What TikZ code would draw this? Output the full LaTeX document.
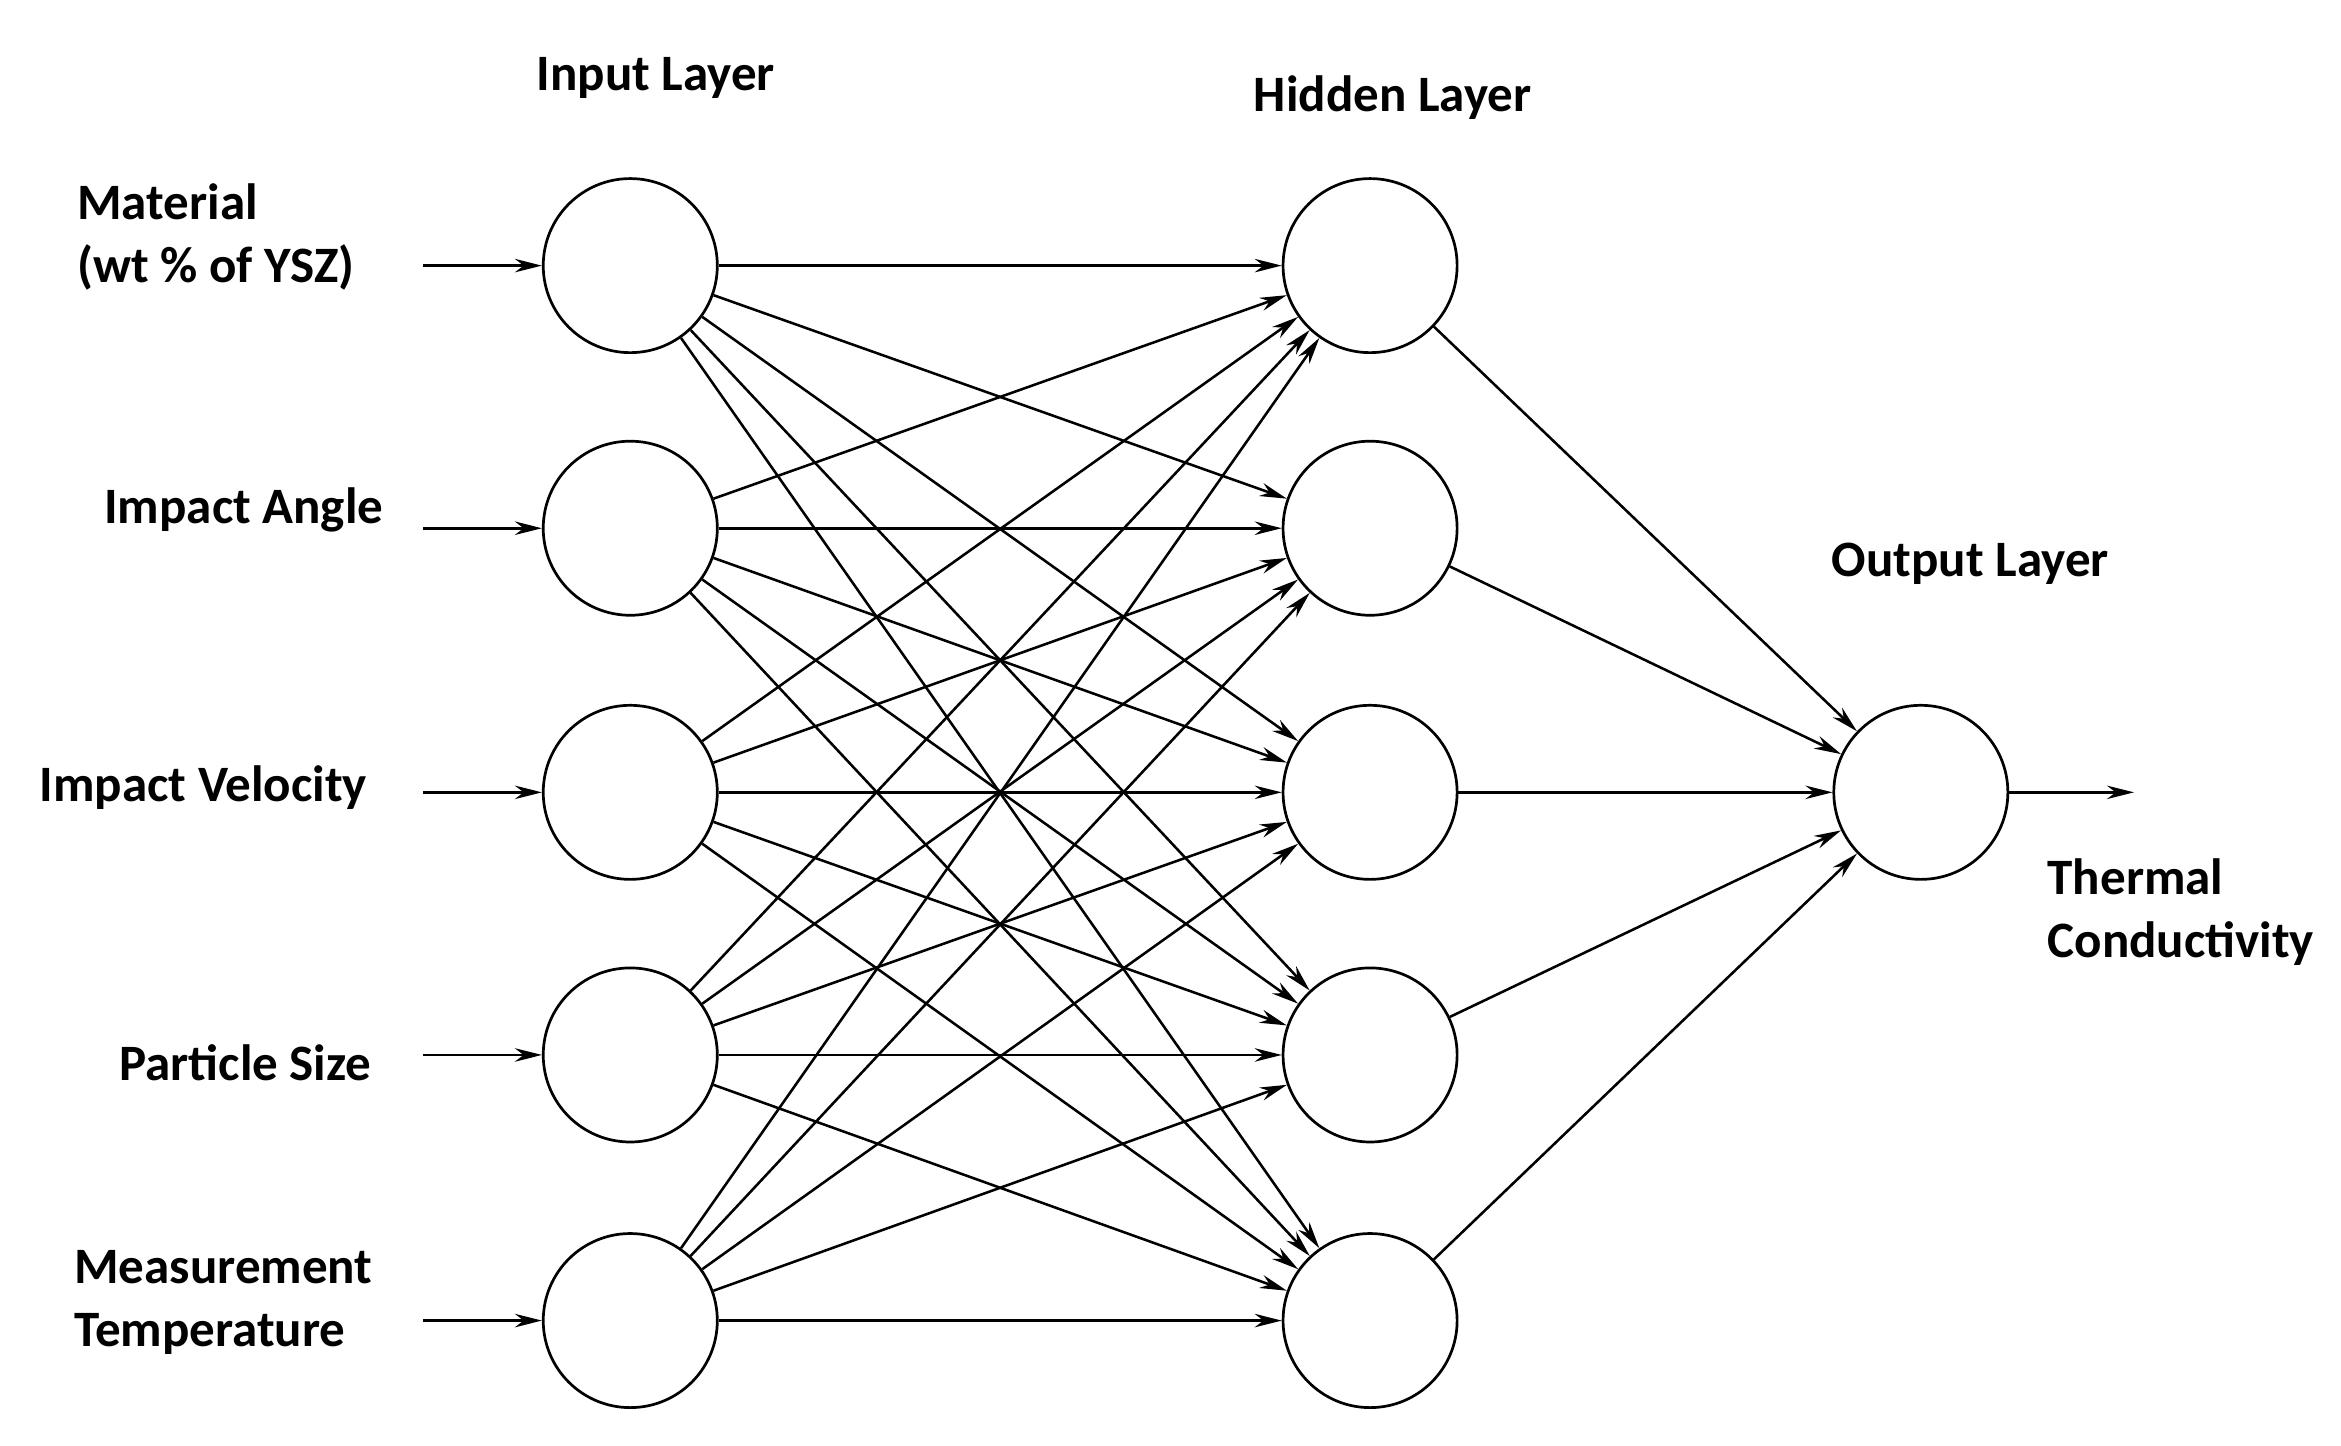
\documentclass[tikz,border=0pt]{standalone}
\usepackage{fontspec}
\setmainfont{Carlito}
\usetikzlibrary{arrows.meta}
\begin{document}
\begin{tikzpicture}[x=1pt,y=-1pt,
  neuron/.style={circle,draw,line width=1.8pt,minimum size=116pt,inner sep=0pt},
  lab/.style={font=\fontsize{34}{42}\selectfont\bfseries,align=left},
  con/.style={line width=1.7pt,-{Stealth[length=18pt,width=9pt]}}]
\useasboundingbox (0,0) rectangle (1560,963);
\foreach \i/\y in {1/177,2/352,3/528,4/703,5/880}{
  \node[neuron] (i\i) at (420,\y) {};
  \node[neuron] (h\i) at (913,\y) {};
  \coordinate (a\i) at (282,\y);
}
\node[neuron] (o) at (1280,528) {};
\node[lab] at (437,52) {Input Layer};
\node[lab] at (928,65) {Hidden Layer};
\node[lab] at (1313,376) {Output Layer};
\node[lab,anchor=west] at (48,158) {Material\\(wt \% of YSZ)};
\node[lab,anchor=west] at (66,340) {Impact Angle};
\node[lab,anchor=west] at (23,525) {Impact Velocity};
\node[lab,anchor=west] at (76,708) {Particle Size};
\node[lab,anchor=west] at (46,868) {Measurement\\Temperature};
\node[lab,anchor=west] at (1361,608) {Thermal\\Conductivity};
\coordinate (out) at (1422,528);
\foreach \i in {1,...,5}{
  \draw[con] (a\i) -- (i\i.west);
  \draw[con] (h\i) -- (o);
  \foreach \j in {1,...,5}{\draw[con] (i\i) -- (h\j);}
}
\draw[con] (o) -- (out);
\end{tikzpicture}
\end{document}
